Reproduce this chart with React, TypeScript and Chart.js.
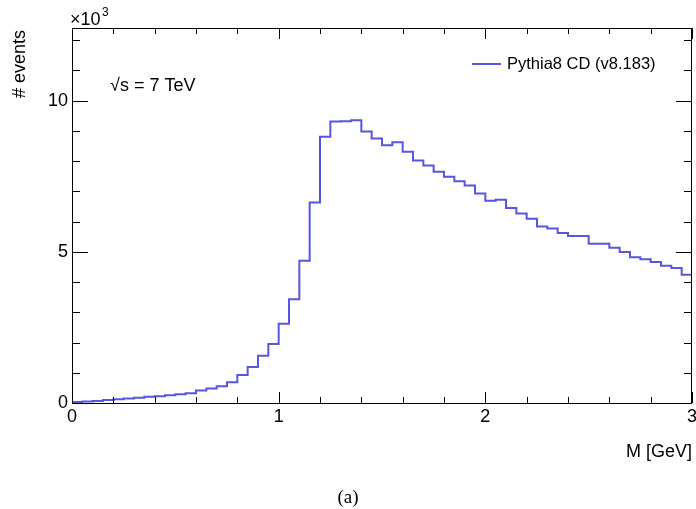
import React, { useEffect, useRef } from "react";
import { Chart, registerables } from "chart.js";

Chart.register(...registerables);

// Histogram of invariant mass M [GeV], bin width 0.05 GeV, counts in units of 10^3 events
const xMin = 0;
const xMax = 3;
const binWidth = 0.05;
const eventsK = [
  0.03, 0.05, 0.07, 0.10, 0.12, 0.15, 0.17, 0.21, 0.22, 0.26,
  0.29, 0.32, 0.41, 0.48, 0.55, 0.69, 0.93, 1.19, 1.56, 1.95,
  2.62, 3.43, 4.70, 6.63, 8.80, 9.31, 9.32, 9.35, 8.98, 8.75,
  8.52, 8.62, 8.31, 8.02, 7.85, 7.65, 7.48, 7.33, 7.19, 6.93,
  6.69, 6.72, 6.45, 6.27, 6.09, 5.84, 5.77, 5.62, 5.52, 5.52,
  5.27, 5.27, 5.13, 4.99, 4.82, 4.75, 4.66, 4.54, 4.46, 4.24,
];
const yMax = 12.4;
const xTickValues = [0, 1, 2, 3];
const yTickValues = [0, 5, 10];
const seriesLabel = "Pythia8 CD (v8.183)";
const energyLabel = "√s = 7 TeV";
const xTitle = "M [GeV]";
const yTitle = "# events";
const caption = "(a)";

const LINE_COLOR = "rgb(86,86,224)";
const SANS = "'Liberation Sans', Arial, Helvetica, sans-serif";
const SERIF = "'Liberation Serif', 'Times New Roman', serif";

const framePlugin = {
  id: "rootFrame",
  afterDraw(chart: any) {
    const ctx = chart.ctx as CanvasRenderingContext2D;
    const { left, right, top, bottom } = chart.chartArea;
    const xs = chart.scales.x;
    const ys = chart.scales.y;
    ctx.save();
    ctx.strokeStyle = "#000";
    ctx.lineWidth = 1;
    ctx.strokeRect(left + 0.5, top + 0.5, right - left - 1, bottom - top);

    // x ticks (minor every 0.2, major every 1), bottom and top, inward
    ctx.beginPath();
    for (let k = 0; k <= 15; k++) {
      const v = xMin + k * 0.2;
      const px = Math.round(xs.getPixelForValue(v)) + 0.5;
      const isMajor = Math.abs(v - Math.round(v)) < 1e-6;
      const len = isMajor ? 11 : 6;
      ctx.moveTo(px, bottom);
      ctx.lineTo(px, bottom - len);
      ctx.moveTo(px, top);
      ctx.lineTo(px, top + len);
    }
    // y ticks (minor every 1, major every 5), left and right, inward
    for (let v = 0; v <= Math.floor(yMax); v++) {
      const py = Math.round(ys.getPixelForValue(v)) + 0.5;
      const len = v % 5 === 0 ? 16 : 8;
      ctx.moveTo(left, py);
      ctx.lineTo(left + len, py);
      ctx.moveTo(right, py);
      ctx.lineTo(right - len, py);
    }
    ctx.stroke();

    // Texts
    ctx.fillStyle = "#000";
    ctx.font = `18px ${SANS}`;
    ctx.textBaseline = "alphabetic";
    ctx.textAlign = "left";
    ctx.fillText("\u00d710", 70, 25);
    ctx.font = `12px ${SANS}`;
    ctx.fillText("3", 102, 16);

    ctx.font = `18px ${SANS}`;
    ctx.fillText(energyLabel, 110, 91);

    ctx.textAlign = "right";
    ctx.fillText(xTitle, right, 457);

    ctx.save();
    ctx.translate(25, top + 2);
    ctx.rotate(-Math.PI / 2);
    ctx.textAlign = "right";
    ctx.fillText(yTitle, 0, 0);
    ctx.restore();

    // legend
    ctx.strokeStyle = LINE_COLOR;
    ctx.lineWidth = 2;
    ctx.beginPath();
    ctx.moveTo(472, 64);
    ctx.lineTo(501, 64);
    ctx.stroke();
    ctx.font = `16.5px ${SANS}`;
    ctx.textAlign = "left";
    ctx.fillText(seriesLabel, 507, 69);

    ctx.font = `19px ${SERIF}`;
    ctx.textAlign = "center";
    ctx.fillText(caption, 348, 503);
    ctx.restore();
  },
};

export default function App() {
  const canvasRef = useRef<HTMLCanvasElement | null>(null);

  useEffect(() => {
    const canvas = canvasRef.current;
    if (!canvas) return;
    const points = eventsK.map((v, i) => ({ x: xMin + i * binWidth, y: v }));
    points.push({ x: xMax, y: eventsK[eventsK.length - 1] });

    const chart = new Chart(canvas, {
      type: "line",
      data: {
        datasets: [
          {
            label: seriesLabel,
            data: points,
            stepped: "before",
            borderColor: LINE_COLOR,
            borderWidth: 2,
            pointRadius: 0,
            fill: false,
            tension: 0,
          },
        ],
      },
      options: {
        animation: false,
        responsive: false,
        devicePixelRatio: 1,
        layout: { padding: { top: 28, right: 4, left: 0, bottom: 0 } },
        plugins: {
          legend: { display: false },
          tooltip: { enabled: false },
        },
        scales: {
          x: {
            type: "linear",
            min: xMin,
            max: xMax,
            grid: { display: false, drawTicks: false },
            border: { display: false },
            afterFit: (s: any) => {
              s.height = 106;
              s.paddingLeft = 0;
              s.paddingRight = 0;
            },
            afterBuildTicks: (s: any) => {
              s.ticks = xTickValues.map((v) => ({ value: v }));
            },
            ticks: {
              color: "#000",
              padding: 3,
              maxRotation: 0,
              autoSkip: false,
              font: { family: SANS, size: 18 },
              callback: (v: any) => String(v),
            },
          },
          y: {
            type: "linear",
            min: 0,
            max: yMax,
            grid: { display: false, drawTicks: false },
            border: { display: false },
            afterFit: (s: any) => {
              s.width = 72;
              s.paddingTop = 0;
              s.paddingBottom = 0;
            },
            afterBuildTicks: (s: any) => {
              s.ticks = yTickValues.map((v) => ({ value: v }));
            },
            ticks: {
              color: "#000",
              padding: 4,
              autoSkip: false,
              font: { family: SANS, size: 18 },
              callback: (v: any) => String(v),
            },
          },
        },
      },
      plugins: [framePlugin],
    });
    return () => chart.destroy();
  }, []);

  return (
    <div style={{ position: "absolute", left: 0, top: 0, width: 696, height: 509, background: "#fff" }}>
      <canvas ref={canvasRef} width={696} height={509} style={{ width: 696, height: 509, display: "block" }} />
    </div>
  );
}
